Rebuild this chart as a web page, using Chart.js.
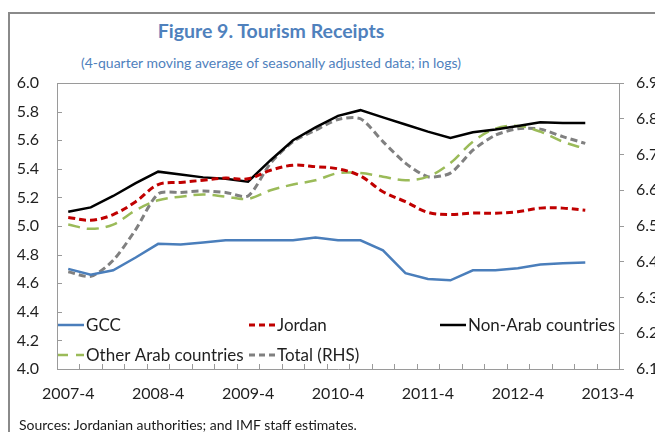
<!DOCTYPE html>
<html>
<head>
<meta charset="utf-8">
<script src="https://cdn.jsdelivr.net/npm/chart.js@4.4.1/dist/chart.umd.min.js"></script>
<style>
  html, body { margin: 0; padding: 0; width: 655px; height: 432px; overflow: hidden; background: #fff; font-family: Lato, sans-serif; }
  #frame { position: absolute; left: 8px; top: 12px; width: 700px; height: 500px; border-left: 2px solid #8a8a8a; border-top: 2px solid #8a8a8a; }
  #chart { position: absolute; left: 0; top: 0; }
  .title { position: absolute; left: 0; width: 542px; text-align: center; color: #4f81bd; white-space: nowrap; }
  #t1 { top: 19px; font-size: 19.5px; font-weight: bold; }
  #t2 { top: 54px; font-size: 14px; }
  #src { position: absolute; left: 19px; top: 416px; font-size: 14px; color: #1a1a1a; white-space: nowrap; }
</style>
</head>
<body>
<div id="frame"></div>
<div class="title" id="t1">Figure 9. Tourism Receipts</div>
<div class="title" id="t2">(4-quarter moving average of seasonally adjusted data; in logs)</div>
<canvas id="chart" width="700" height="432"></canvas>
<div id="src">Sources: Jordanian authorities; and IMF staff estimates.</div>
<script>
// quarters 2007-4 .. 2013-4
const quarters = ["2007-4", "2008-1", "2008-2", "2008-3", "2008-4", "2009-1", "2009-2", "2009-3",
    "2009-4", "2010-1", "2010-2", "2010-3", "2010-4", "2011-1", "2011-2", "2011-3", "2011-4",
    "2012-1", "2012-2", "2012-3", "2012-4", "2013-1", "2013-2", "2013-3", "2013-4"];

// left axis
const gcc = [4.70, 4.66, 4.69, 4.78, 4.875, 4.87, 4.885, 4.90, 4.90, 4.90, 4.90, 4.92,
    4.90, 4.90, 4.83, 4.67, 4.63, 4.62, 4.69, 4.69, 4.705, 4.73, 4.74, 4.745];
const jordan = [5.06, 5.04, 5.08, 5.17, 5.29, 5.305, 5.32, 5.335, 5.33, 5.39, 5.425, 5.415,
    5.40, 5.35, 5.24, 5.17, 5.095, 5.08, 5.09, 5.09, 5.10, 5.125, 5.125, 5.11];
const nonArab = [5.10, 5.13, 5.21, 5.30, 5.38, 5.36, 5.34, 5.33, 5.31, 5.46, 5.60, 5.69,
    5.77, 5.81, 5.76, 5.71, 5.66, 5.615, 5.655, 5.675, 5.70, 5.725, 5.72, 5.72];
const otherArab = [5.01, 4.98, 5.01, 5.11, 5.18, 5.205, 5.22, 5.205, 5.19, 5.25, 5.29, 5.32,
    5.37, 5.37, 5.345, 5.32, 5.345, 5.44, 5.59, 5.68, 5.70, 5.66, 5.59, 5.54];
// right axis
const total = [6.372, 6.359, 6.404, 6.49, 6.59, 6.594, 6.598, 6.594, 6.584, 6.676, 6.736, 6.768,
    6.798, 6.80, 6.736, 6.676, 6.638, 6.648, 6.712, 6.754, 6.772, 6.771, 6.75, 6.731];

const axisColor = "#9a9a9a";
const textColor = "#1f1f1f";
const fontFamily = "Lato, sans-serif";

// legend slots inside the plot: [dataset index, x, y]
const legendSlots = [[0, 58, 325], [1, 249, 325], [2, 440, 325], [3, 58, 355], [4, 249, 355]];

const decorPlugin = {
    id: "decor",
    afterDraw(chart) {
        const ctx = chart.ctx;
        const a = chart.chartArea;
        const ys = chart.scales.y;
        ctx.save();
        ctx.strokeStyle = axisColor;
        ctx.lineWidth = 1;
        ctx.beginPath();
        // top frame of plot
        ctx.moveTo(a.left, a.top + 0.5);
        ctx.lineTo(a.right, a.top + 0.5);
        // inward ticks, left axis
        ys.ticks.forEach((t, i) => {
            const y = Math.round(ys.getPixelForTick(i)) + 0.5;
            ctx.moveTo(a.left, y);
            ctx.lineTo(a.left + 5, y);
        });
        // inward ticks, x axis (category boundaries)
        const n = quarters.length;
        for (let i = 0; i <= n; i++) {
            const x = Math.round(a.left + (i * (a.right - a.left)) / n) + 0.5;
            ctx.moveTo(x, a.bottom);
            ctx.lineTo(x, a.bottom - 5);
        }
        ctx.stroke();

        // legend
        ctx.font = "17px " + fontFamily;
        ctx.textBaseline = "middle";
        ctx.fillStyle = textColor;
        legendSlots.forEach(([di, x, y]) => {
            const ds = chart.data.datasets[di];
            ctx.beginPath();
            ctx.strokeStyle = ds.borderColor;
            ctx.lineWidth = ds.borderWidth;
            ctx.setLineDash(ds.legendDash || ds.borderDash || []);
            ctx.moveTo(x, y);
            ctx.lineTo(x + 26, y);
            ctx.stroke();
            ctx.setLineDash([]);
            ctx.fillText(ds.label, x + 28, y + 1);
        });
        ctx.restore();
    },
};

function initChart() {
    const ctx = document.getElementById("chart").getContext("2d");
    new Chart(ctx, {
        type: "line",
        data: {
            labels: quarters,
            datasets: [
                { label: "GCC", data: gcc, borderColor: "#4a7ebb", borderWidth: 2.5, tension: 0, yAxisID: "y" },
                { label: "Jordan", data: jordan, borderColor: "#c00000", borderWidth: 3, borderDash: [7, 4], legendDash: [6, 4], tension: 0.35, yAxisID: "y" },
                { label: "Non-Arab countries", data: nonArab, borderColor: "#000000", borderWidth: 2.5, tension: 0, yAxisID: "y" },
                { label: "Other Arab countries", data: otherArab, borderColor: "#9bbb59", borderWidth: 2.5, borderDash: [12, 7], legendDash: [10, 8], tension: 0.35, yAxisID: "y" },
                { label: "Total (RHS)", data: total, borderColor: "#808080", borderWidth: 3, borderDash: [7, 4], legendDash: [6, 4], tension: 0.25, yAxisID: "y1" },
            ],
        },
        options: {
            responsive: false,
            animation: false,
            layout: { autoPadding: false, padding: { top: 83, left: 0, right: 0, bottom: 0 } },
            elements: { point: { radius: 0 } },
            plugins: { legend: { display: false }, title: { display: false }, tooltip: { enabled: false } },
            scales: {
                x: {
                    offset: true,
                    grid: { display: false },
                    border: { display: true, color: axisColor },
                    ticks: {
                        autoSkip: false,
                        maxRotation: 0,
                        padding: 7,
                        color: textColor,
                        font: { family: fontFamily, size: 16 },
                        callback: (v, i) => (i % 4 === 0 ? quarters[i] : ""),
                    },
                    afterFit: (s) => { s.height = 63; },
                },
                y: {
                    position: "left",
                    min: 4,
                    max: 6,
                    grid: { display: false },
                    border: { display: true, color: axisColor },
                    ticks: {
                        stepSize: 0.2,
                        padding: 10,
                        color: textColor,
                        font: { family: fontFamily, size: 16 },
                        callback: (v) => Number(v).toFixed(1),
                    },
                    afterFit: (s) => { s.width = 57; },
                },
                y1: {
                    position: "right",
                    min: 6.1,
                    max: 6.9,
                    grid: { display: true, drawOnChartArea: false, drawTicks: true, tickLength: 5, color: axisColor },
                    border: { display: true, color: axisColor },
                    ticks: {
                        stepSize: 0.1,
                        padding: 12,
                        color: textColor,
                        font: { family: fontFamily, size: 16 },
                        callback: (v) => Number(v).toFixed(1),
                    },
                    afterFit: (s) => { s.width = 81; },
                },
            },
        },
        plugins: [decorPlugin],
    });
}

document.addEventListener("DOMContentLoaded", () => {
    initChart();
});
</script>
</body>
</html>
